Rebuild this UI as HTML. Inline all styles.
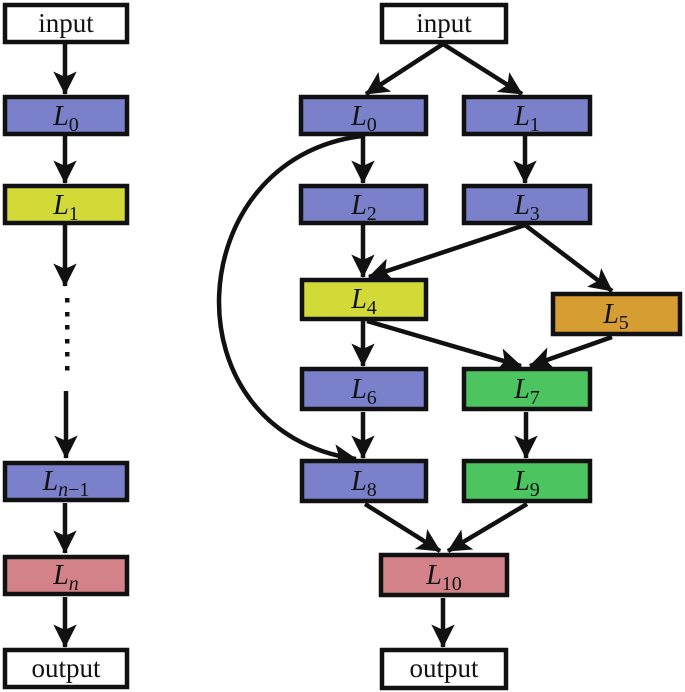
<!DOCTYPE html>
<html><head><meta charset="utf-8"><style>
html,body{margin:0;padding:0;background:#fff;}
svg{display:block;}
text{font-family:"Liberation Serif",serif;}
</style></head><body>
<svg width="685" height="692" viewBox="0 0 685 692" xmlns="http://www.w3.org/2000/svg">
<defs>
<marker id="a" markerWidth="6" markerHeight="6" refX="5" refY="3" orient="auto" markerUnits="strokeWidth">
<path d="M0,0.4 L5.2,3 L0,5.6 L1.2,3 Z" fill="#111"/>
</marker>
</defs>
<g stroke="#111" stroke-width="4.5" fill="none" marker-end="url(#a)">
<line x1="65" y1="44" x2="65" y2="94"/>
<line x1="65" y1="136" x2="65" y2="183"/>
<line x1="65" y1="225" x2="65" y2="286"/>
<line x1="66" y1="391" x2="66" y2="458"/>
<line x1="65" y1="503" x2="65" y2="553"/>
<line x1="65" y1="597" x2="65" y2="647"/>
<line x1="443" y1="44" x2="366" y2="94"/>
<line x1="443" y1="44" x2="522" y2="94"/>
<line x1="363" y1="136" x2="363" y2="183"/>
<line x1="525" y1="136" x2="525" y2="183"/>
<line x1="363" y1="225" x2="363" y2="277"/>
<line x1="525" y1="225" x2="369" y2="277"/>
<line x1="525" y1="225" x2="612" y2="291"/>
<line x1="363" y1="321" x2="363" y2="366"/>
<line x1="367" y1="321" x2="521" y2="366"/>
<line x1="612" y1="337" x2="530" y2="366"/>
<line x1="363" y1="412" x2="363" y2="458"/>
<line x1="526" y1="412" x2="526" y2="458"/>
<line x1="365" y1="504" x2="440" y2="551"/>
<line x1="527" y1="504" x2="448" y2="551"/>
<line x1="443" y1="598" x2="443" y2="647"/>
<path d="M362,136 C180,158 165,432 356,459"/>
</g>
<g fill="#111">
<rect x="65" y="298" width="4.5" height="4.5"/>
<rect x="65" y="312" width="4.5" height="4.5"/>
<rect x="65" y="325" width="4.5" height="4.5"/>
<rect x="65" y="339" width="4.5" height="4.5"/>
<rect x="65" y="352" width="4.5" height="4.5"/>
<rect x="65" y="366" width="4.5" height="4.5"/>
</g>
<g stroke="#111" stroke-width="4.5">
<rect x="5" y="5" width="122" height="37" fill="#fff"/>
<rect x="5" y="97" width="122" height="37" fill="#7a80c9"/>
<rect x="5" y="186" width="122" height="37" fill="#d1da37"/>
<rect x="5" y="463" width="122" height="37" fill="#7a80c9"/>
<rect x="5" y="557" width="122" height="37" fill="#d4828a"/>
<rect x="5" y="650" width="122" height="37" fill="#fff"/>
<rect x="382" y="5" width="124" height="37" fill="#fff"/>
<rect x="301" y="97" width="125" height="37" fill="#7a80c9"/>
<rect x="464" y="97" width="126" height="37" fill="#7a80c9"/>
<rect x="301" y="186" width="125" height="37" fill="#7a80c9"/>
<rect x="464" y="186" width="126" height="37" fill="#7a80c9"/>
<rect x="302" y="280" width="124" height="39" fill="#d1da37"/>
<rect x="553" y="294" width="127" height="40" fill="#d69e32"/>
<rect x="302" y="369" width="124" height="40" fill="#7a80c9"/>
<rect x="464" y="369" width="126" height="40" fill="#4cc561"/>
<rect x="302" y="461" width="124" height="40" fill="#7a80c9"/>
<rect x="464" y="461" width="126" height="40" fill="#4cc561"/>
<rect x="381" y="555" width="126" height="40" fill="#d4828a"/>
<rect x="382" y="650" width="124" height="38" fill="#fff"/>
</g>
<g font-size="27" fill="#111" text-anchor="middle">
<text x="66" y="32">input</text>
<text x="66" y="677">output</text>
<text x="444" y="32">input</text>
<text x="444" y="677">output</text>
</g>
<g font-size="28" font-style="italic" fill="#111" text-anchor="middle">
<text x="66" y="125">L<tspan font-style="normal" font-size="20" dy="6">0</tspan></text>
<text x="66" y="214">L<tspan font-style="normal" font-size="20" dy="6">1</tspan></text>
<text x="66" y="490">L<tspan font-size="20" dy="6">n</tspan><tspan font-style="normal" font-size="20">−1</tspan></text>
<text x="66" y="584">L<tspan font-size="20" dy="6">n</tspan></text>
<text x="364" y="125">L<tspan font-style="normal" font-size="20" dy="6">0</tspan></text>
<text x="527" y="125">L<tspan font-style="normal" font-size="20" dy="6">1</tspan></text>
<text x="364" y="214">L<tspan font-style="normal" font-size="20" dy="6">2</tspan></text>
<text x="527" y="214">L<tspan font-style="normal" font-size="20" dy="6">3</tspan></text>
<text x="364" y="308">L<tspan font-style="normal" font-size="20" dy="6">4</tspan></text>
<text x="616" y="323">L<tspan font-style="normal" font-size="20" dy="6">5</tspan></text>
<text x="364" y="398">L<tspan font-style="normal" font-size="20" dy="6">6</tspan></text>
<text x="527" y="398">L<tspan font-style="normal" font-size="20" dy="6">7</tspan></text>
<text x="364" y="490">L<tspan font-style="normal" font-size="20" dy="6">8</tspan></text>
<text x="527" y="490">L<tspan font-style="normal" font-size="20" dy="6">9</tspan></text>
<text x="444" y="584">L<tspan font-style="normal" font-size="20" dy="6">10</tspan></text>
</g>
</svg>
</body></html>
